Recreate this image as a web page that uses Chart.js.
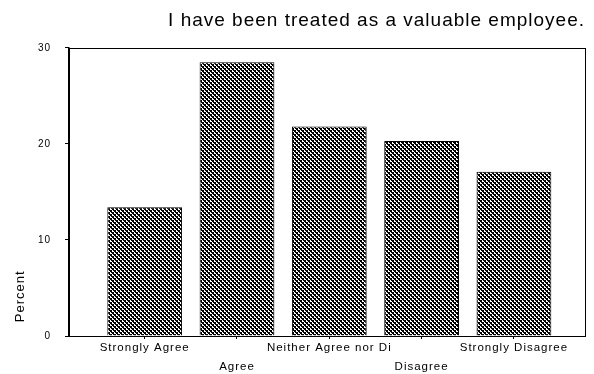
<!DOCTYPE html>
<html lang="en">
<head>
  <meta charset="UTF-8">
  <title>Valuable employee</title>
  <script src="https://cdn.jsdelivr.net/npm/chart.js"></script>
  <style>
    body {margin: 0; background: #fff;}
    #wrap {width: 594px; height: 374px;}
  </style>
</head>
<body>
<div id="wrap"><canvas id="barChart"></canvas></div>
<script>
  const categories = ['Strongly Agree', 'Agree', 'Neither Agree nor Di', 'Disagree', 'Strongly Disagree'];
  const percents = [13.4, 28.5, 21.8, 20.3, 17.1];
  const yTicks = [0, 10, 20, 30];

  // checkerboard fill like the old print dither
  const tile = document.createElement('canvas');
  tile.width = 4; tile.height = 4;
  const tctx = tile.getContext('2d');
  tctx.fillStyle = '#fff';
  tctx.fillRect(0, 0, 4, 4);
  tctx.fillStyle = '#000';
  tctx.fillRect(0, 0, 2, 2);
  tctx.fillRect(2, 2, 2, 2);
  tctx.fillRect(1, 2, 1, 1);
  tctx.fillRect(3, 0, 1, 1);
  const dither = tctx.createPattern(tile, 'repeat');

  // the old print has loose letter spacing everywhere
  const spacing = {
    id: 'spacing',
    beforeUpdate(chart) { chart.ctx.letterSpacing = '1px'; },
    beforeDraw(chart) { chart.ctx.letterSpacing = '1px'; }
  };

  const frame = {
    id: 'frame',
    afterDatasetsDraw(chart) {
      const a = chart.chartArea, c = chart.ctx;
      c.save();
      c.strokeStyle = '#000';
      c.lineWidth = 1;
      c.strokeRect(Math.round(a.left) + 0.5, Math.round(a.top) + 0.5,
        Math.round(a.right - a.left), Math.round(a.bottom - a.top));
      c.restore();
    }
  };

  const font = 'Liberation Sans, Arial, sans-serif';

  new Chart(document.getElementById('barChart'), {
    type: 'bar',
    data: {
      datasets: [{
        data: percents.map((v, i) => ({x: i, y: v})),
        backgroundColor: dither,
        borderColor: '#000',
        borderWidth: 1,
        barPercentage: 0.81,
        categoryPercentage: 1
      }]
    },
    options: {
      responsive: true,
      maintainAspectRatio: false,
      animation: false,
      layout: {padding: {left: 0, right: 9, top: 0, bottom: 0}},
      plugins: {
        legend: {display: false},
        tooltip: {enabled: false},
        title: {
          display: true,
          text: 'I have been treated as a valuable employee.',
          align: 'end',
          color: '#000',
          font: {family: font, size: 19, weight: 'normal', lineHeight: 1.2},
          padding: {top: 9, bottom: 16}
        }
      },
      scales: {
        x: {
          type: 'linear',
          offset: false,
          min: -0.82,
          max: 4.77,
          afterFit(s) { s.height = 38; },
          afterBuildTicks(s) { s.ticks = categories.map((c, i) => ({value: i})); },
          grid: {drawOnChartArea: false, drawTicks: true, tickLength: 3, color: '#000', offset: false},
          border: {display: true, color: '#000'},
          ticks: {
            autoSkip: false,
            maxRotation: 0,
            padding: 0,
            color: '#000',
            font: {family: font, size: 11.5, lineHeight: 1.6},
            callback: v => v % 2 ? ['', categories[v]] : categories[v]
          }
        },
        y: {
          min: 0,
          max: 30,
          afterFit(s) { s.width = 69; },
          afterBuildTicks(s) { s.ticks = yTicks.map(v => ({value: v})); },
          grid: {drawOnChartArea: false, drawTicks: true, tickLength: 4, color: '#000'},
          border: {display: true, color: '#000', width: 1.5},
          ticks: {
            padding: 14,
            color: '#000',
            font: {family: font, size: 10}
          },
          title: {
            display: true,
            text: '   Percent',
            align: 'start',
            color: '#000',
            padding: {top: 13, bottom: 0},
            font: {family: font, size: 13}
          }
        }
      }
    },
    plugins: [spacing, frame]
  });
</script>
</body>
</html>
